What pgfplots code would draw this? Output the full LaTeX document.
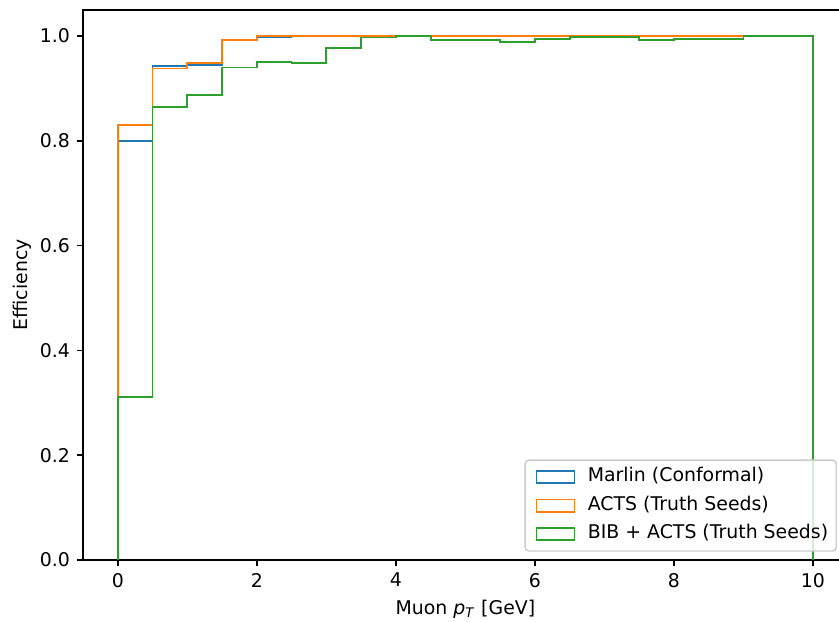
\documentclass[border=0pt]{standalone}
\usepackage{pgfplots}
\pgfplotsset{compat=1.18}
\usepackage{pgfplotstable}
\usepackage{fontspec}
\setmainfont{DejaVu Sans}
\definecolor{tabblue}{HTML}{1F77B4}
\definecolor{taborange}{HTML}{FF7F0E}
\definecolor{tabgreen}{HTML}{2CA02C}
\definecolor{legframe}{HTML}{CCCCCC}
\pgfplotstableread{
x y
0 0
0.5 0.800
1.0 0.943
1.5 0.945
2.0 0.992
2.5 0.997
3.0 1.0
3.5 1.0
4.0 1.0
4.5 1.0
5.0 1.0
5.5 1.0
6.0 1.0
6.5 1.0
7.0 1.0
7.5 1.0
8.0 1.0
8.5 1.0
9.0 1.0
9.5 1.0
10.0 1.0
10.0 0
}\marlin
\pgfplotstableread{
x y
0 0
0.5 0.830
1.0 0.938
1.5 0.949
2.0 0.992
2.5 1.0
3.0 1.0
3.5 1.0
4.0 1.0
4.5 1.0
5.0 1.0
5.5 1.0
6.0 1.0
6.5 1.0
7.0 1.0
7.5 1.0
8.0 1.0
8.5 1.0
9.0 1.0
9.5 1.0
10.0 1.0
10.0 0
}\acts
\pgfplotstableread{
x y
0 0
0.5 0.311
1.0 0.864
1.5 0.887
2.0 0.940
2.5 0.950
3.0 0.948
3.5 0.977
4.0 0.997
4.5 1.0
5.0 0.992
5.5 0.992
6.0 0.989
6.5 0.995
7.0 0.998
7.5 0.998
8.0 0.993
8.5 0.995
9.0 0.995
9.5 1.0
10.0 1.0
10.0 0
}\bib
\begin{document}
\fontsize{10.3}{12.4}\selectfont
\begin{tikzpicture}
\begin{axis}[
  scale only axis,
  width=417pt, height=300pt,
  xmin=-0.5, xmax=10.5, ymin=0, ymax=1.05,
  xtick={0,2,4,6,8,10},
  ytick={0,0.2,0.4,0.6,0.8,1.0},
  tick align=outside,
  major tick length=3.5pt,
  every tick/.style={black, line width=0.8pt},
  axis line style={black, line width=0.8pt},
  tick pos=left,
  yticklabel style={/pgf/number format/.cd, fixed, fixed zerofill, precision=1},
  /pgf/number format/assume math mode=true,
  xlabel={Muon \textit{p}\textsubscript{\textit{T}} [GeV]},
  ylabel={Efficiency},
  ylabel shift=-2.5pt,
  legend cell align=left,
  legend style={at={(0.9859,0.015)}, anchor=south east, draw=legframe, rounded corners=2pt, fill=white, fill opacity=0.8, text opacity=1, line width=0.8pt,
    inner xsep=2.4pt, inner ysep=1.5pt, row sep=0pt,
    nodes={inner xsep=2pt, inner ysep=3pt, text height=7.3pt, text depth=2.2pt},
    /tikz/every odd column/.append style={column sep=4.8pt}},
  legend image code/.code={\path (0pt,0pt) -- (0pt,0pt); \draw[#1, line width=1pt, sharp corners] (3.3pt,-3.3pt) rectangle (24pt,3.3pt);},
  every axis plot/.append style={line width=1pt, const plot mark right, no marks},
]
\addplot[tabblue] table[x=x,y=y] {\marlin};
\addlegendentry{Marlin (Conformal)}
\addplot[taborange] table[x=x,y=y] {\acts};
\addlegendentry{ACTS (Truth Seeds)}
\addplot[tabgreen] table[x=x,y=y] {\bib};
\addlegendentry{BIB + ACTS (Truth Seeds)}
\coordinate (bbsw) at (axis cs:-1.694,-0.1183);
\coordinate (bbne) at (axis cs:10.374,1.0687);
\end{axis}
\pgfresetboundingbox
\useasboundingbox (bbsw) rectangle (bbne);
\end{tikzpicture}
\end{document}
